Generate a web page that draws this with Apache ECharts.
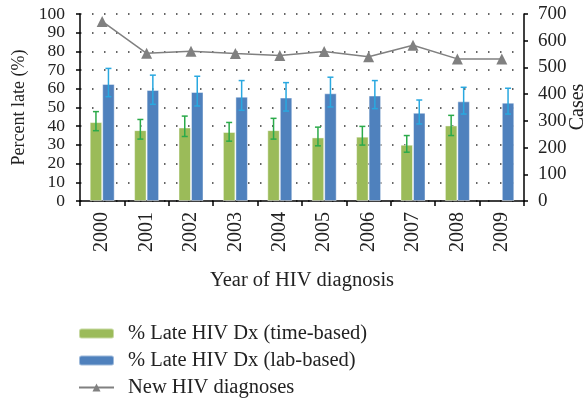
<!DOCTYPE html>
<html>
<head>
<meta charset="utf-8">
<script src="https://cdn.jsdelivr.net/npm/echarts@6/dist/echarts.min.js"></script>
<style>
html,body{margin:0;padding:0;background:#fff;}
#chart{width:587px;height:400px;}
</style>
</head>
<body>
<div id="chart"></div>
<script>
var years = ['2000','2001','2002','2003','2004','2005','2006','2007','2008','2009'];
var timeBased = [42.2, 37.9, 39.3, 36.9, 37.9, 34.0, 34.4, 30.1, 40.4, null];
var timeLo = [37.6, 33.1, 34.5, 32.0, 33.1, 29.5, 29.9, 26.1, 35.0, null];
var timeHi = [47.8, 43.6, 45.4, 42.0, 44.2, 39.5, 39.9, 35.0, 45.8, null];
var labBased = [62.6, 59.4, 58.3, 55.8, 55.3, 57.6, 56.4, 47.2, 53.3, 52.6];
var labLo = [55.8, 51.7, 50.8, 48.5, 48.1, 50.3, 49.4, 41.2, 46.5, 46.5];
var labHi = [70.9, 67.3, 66.7, 64.4, 63.3, 66.2, 64.4, 54.0, 60.8, 60.3];
var newCases = [672, 553, 561, 552, 545, 560, 540, 583, 532, 532];

var FONT = "'Liberation Serif','DejaVu Serif',serif";
var BAR_W = 12.5;

function errData(lo, hi) {
  var out = [];
  for (var i = 0; i < lo.length; i++) {
    if (lo[i] != null && hi[i] != null) out.push([i, lo[i], hi[i]]);
  }
  return out;
}
function errSeries(name, lo, hi, offset, color) {
  return {
    name: name, type: 'custom', yAxisIndex: 0, z: 5,
    data: errData(lo, hi),
    encode: {x: 0, y: [1, 2]},
    renderItem: function (params, api) {
      var i = api.value(0);
      var a = api.coord([i, api.value(1)]);
      var b = api.coord([i, api.value(2)]);
      var x = a[0] + offset;
      var cap = 3;
      var st = {stroke: color, lineWidth: 1.5};
      return {type: 'group', children: [
        {type: 'line', shape: {x1: x, y1: a[1], x2: x, y2: b[1]}, style: st},
        {type: 'line', shape: {x1: x - cap, y1: a[1], x2: x + cap, y2: a[1]}, style: st},
        {type: 'line', shape: {x1: x - cap, y1: b[1], x2: x + cap, y2: b[1]}, style: st}
      ]};
    }
  };
}

var chart = echarts.init(document.getElementById('chart'));
chart.setOption({
  animation: false,
  textStyle: {fontFamily: FONT},
  grid: {left: 80, right: 63, top: 14, bottom: 199, containLabel: false, outerBoundsMode: 'none'},
  graphic: [{
    type: 'text', x: 578, y: 107, rotation: Math.PI / 2,
    style: {text: 'Cases', fontFamily: FONT, fontSize: 20, fill: '#222',
      align: 'center', verticalAlign: 'middle'}
  }],
  legend: {
    orient: 'vertical', left: 78, top: 323, padding: 0, itemWidth: 35, itemHeight: 10, itemGap: 6,
    data: ['% Late HIV Dx (time-based)', '% Late HIV Dx (lab-based)', 'New HIV diagnoses'],
    textStyle: {fontFamily: FONT, fontSize: 20.5, color: '#222', padding: [0, 0, 0, 9]}
  },
  xAxis: {
    type: 'category', data: years,
    name: 'Year of HIV diagnosis', nameLocation: 'middle', nameGap: 69,
    nameTextStyle: {fontFamily: FONT, fontSize: 20.5, color: '#222'},
    axisLine: {lineStyle: {color: '#000', width: 1.5}},
    axisTick: {show: true, alignWithLabel: false, length: 5, lineStyle: {color: '#000', width: 1.5}},
    axisLabel: {rotate: 90, fontFamily: FONT, fontSize: 20, color: '#222', margin: 11}
  },
  yAxis: [{
    type: 'value', min: 0, max: 100, interval: 10,
    name: 'Percent late (%)', nameLocation: 'middle', nameGap: 50,
    nameTextStyle: {fontFamily: FONT, fontSize: 18, color: '#222'},
    axisLine: {show: true, lineStyle: {color: '#000', width: 1.5}},
    axisTick: {show: true, length: 4, lineStyle: {color: '#000', width: 1.5}},
    axisLabel: {fontFamily: FONT, fontSize: 17.5, color: '#222', margin: 15,
      showMinLabel: true, showMaxLabel: true},
    splitLine: {show: true, lineStyle: {color: '#333', width: 1.5, type: [1.5, 10.5]}}
  }, {
    type: 'value', min: 0, max: 700, interval: 100, position: 'right',
    axisLine: {show: true, lineStyle: {color: '#000', width: 1.5}},
    axisTick: {show: true, length: 4, lineStyle: {color: '#000', width: 1.5}},
    axisLabel: {fontFamily: FONT, fontSize: 19, color: '#222', margin: 14,
      showMinLabel: true, showMaxLabel: true},
    splitLine: {show: false}
  }],
  series: [{
    name: '% Late HIV Dx (time-based)', type: 'bar', data: timeBased, barWidth: BAR_W, barGap: '0%',
    itemStyle: {color: '#9BBB59', borderColor: 'rgba(255,255,255,0.45)', borderWidth: 1}
  }, {
    name: '% Late HIV Dx (lab-based)', type: 'bar', data: labBased, barWidth: BAR_W, barGap: '0%',
    itemStyle: {color: '#4F81BD', borderColor: 'rgba(255,255,255,0.45)', borderWidth: 1}
  },
  errSeries('errTime', timeLo, timeHi, -BAR_W / 2, '#2BAA4A'),
  errSeries('errLab', labLo, labHi, BAR_W / 2, '#29A8E0'),
  {
    name: 'New HIV diagnoses', type: 'line', yAxisIndex: 1, data: newCases,
    symbol: 'triangle', symbolSize: 11, z: 6,
    itemStyle: {color: '#808080'}, lineStyle: {color: '#808080', width: 1.5}
  }]
});
</script>
</body>
</html>
